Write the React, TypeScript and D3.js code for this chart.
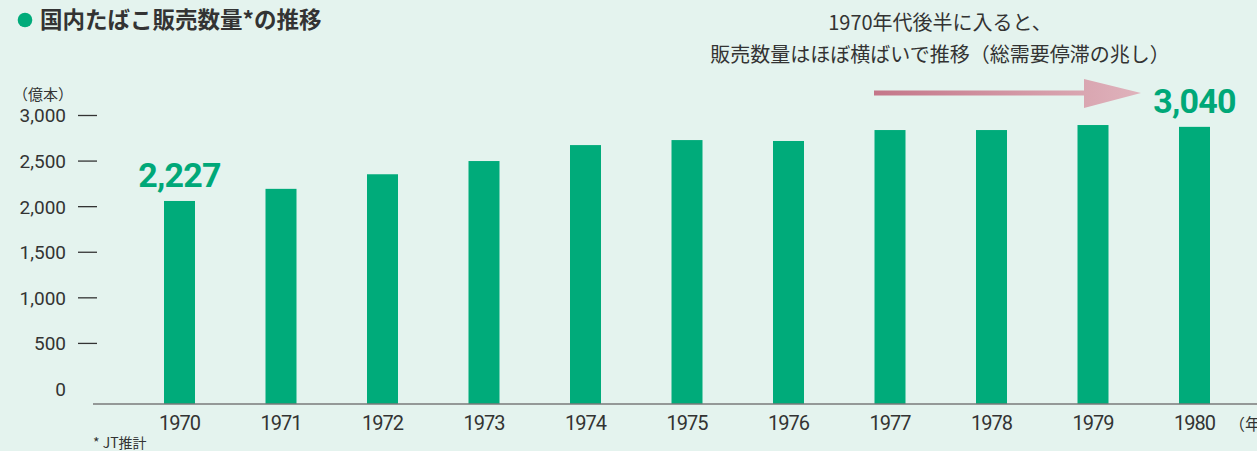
import React from "react";
import * as d3 from "d3";

const years = ["1970", "1971", "1972", "1973", "1974", "1975", "1976", "1977", "1978", "1979", "1980"];
const sales = [2227, 2360, 2520, 2665, 2840, 2895, 2885, 3005, 3005, 3060, 3040];
const yTicks = [0, 500, 1000, 1500, 2000, 2500, 3000];
const highlighted = ["1970", "1980"];

const title = "国内たばこ販売数量*の推移";
const noteLines = ["1970年代後半に入ると、", "販売数量はほぼ横ばいで推移（総需要停滞の兆し）"];
const unitLabel = "（億本）";
const xUnit = "（年）";
const footnote = "* JT推計";

const W = 1257;
const H = 451;
const GREEN = "#00ab7a";
const TEXT = "#333333";
const JP = "'Noto Sans CJK JP', 'Noto Sans', sans-serif";
const NUM = "Roboto, 'Noto Sans', sans-serif";

export default function App() {
  const x = d3
    .scaleBand<string>()
    .domain(years)
    .range([128.75, 1245.25])
    .paddingInner(0.6946)
    .paddingOuter(0.3473);
  const y = d3.scaleLinear().domain([0, 3000]).range([404, 130.5]);
  const tickOffset = -15;
  const fmt = d3.format(",");

  return (
    <svg
      width={W}
      height={H}
      style={{ position: "absolute", left: 0, top: 0, display: "block" }}
    >
      <defs>
        <linearGradient id="arrowGrad" gradientUnits="userSpaceOnUse" x1={874} x2={1141} y1={0} y2={0}>
          <stop offset="0%" stopColor="#c47689" />
          <stop offset="100%" stopColor="#dfb3bc" />
        </linearGradient>
      </defs>
      <rect x={0} y={0} width={W} height={H} fill="#e4f3ee" />

      {/* Title */}
      <circle cx={25} cy={20} r={7.3} fill={GREEN} />
      <text x={40} y={28} fontFamily={JP} fontWeight={700} fontSize={22.5} fill={TEXT}>
        {title}
      </text>

      {/* Annotation */}
      {noteLines.map((t, i) => (
        <text
          key={i}
          x={940}
          y={30 + i * 32}
          textAnchor="middle"
          fontFamily={JP}
          fontSize={20}
          fill={TEXT}
        >
          {t}
        </text>
      ))}
      <line x1={874} x2={1088} y1={93} y2={93} stroke="url(#arrowGrad)" strokeWidth={5} />
      <path d="M1084,79 L1141,93 L1084,108 Z" fill="url(#arrowGrad)" />

      {/* Y axis labels */}
      <text x={13} y={100} fontFamily={JP} fontSize={15} fill={TEXT}>
        {unitLabel}
      </text>
      {yTicks.map((v) => {
        const ty = y(v) + tickOffset;
        return (
          <g key={v}>
            <text
              x={66}
              y={ty}
              dy="0.36em"
              textAnchor="end"
              fontFamily={NUM}
              fontSize={19}
              fill={TEXT}
            >
              {fmt(v)}
            </text>
            {v > 0 && (
              <line x1={78} x2={97} y1={ty} y2={ty} stroke={TEXT} strokeWidth={1.3} />
            )}
          </g>
        );
      })}

      {/* Bars */}
      {years.map((yr, i) => (
        <rect
          key={yr}
          x={x(yr)}
          y={y(sales[i])}
          width={x.bandwidth()}
          height={y(0) - y(sales[i])}
          fill={GREEN}
        />
      ))}

      {/* Highlight value labels */}
      {years.map((yr, i) =>
        highlighted.includes(yr) ? (
          <text
            key={"v" + yr}
            x={(x(yr) as number) + x.bandwidth() / 2}
            y={y(sales[i]) - 14}
            textAnchor="middle"
            fontFamily={NUM}
            fontWeight={700}
            fontSize={34}
            letterSpacing={-0.8}
            fill="#00a878"
          >
            {fmt(sales[i])}
          </text>
        ) : null
      )}

      {/* X axis */}
      <line x1={93} x2={W} y1={404} y2={404} stroke="#7a7a7a" strokeWidth={1.6} />
      {years.map((yr) => (
        <text
          key={"x" + yr}
          x={(x(yr) as number) + x.bandwidth() / 2}
          y={430}
          textAnchor="middle"
          fontFamily={NUM}
          fontSize={20}
          letterSpacing={-1}
          fill={TEXT}
        >
          {yr}
        </text>
      ))}
      <text x={1229} y={430} fontFamily={JP} fontSize={16} fill={TEXT}>
        {xUnit}
      </text>
      <text x={93} y={448} fontFamily={JP} fontSize={14} fill={TEXT}>
        {footnote}
      </text>
    </svg>
  );
}
